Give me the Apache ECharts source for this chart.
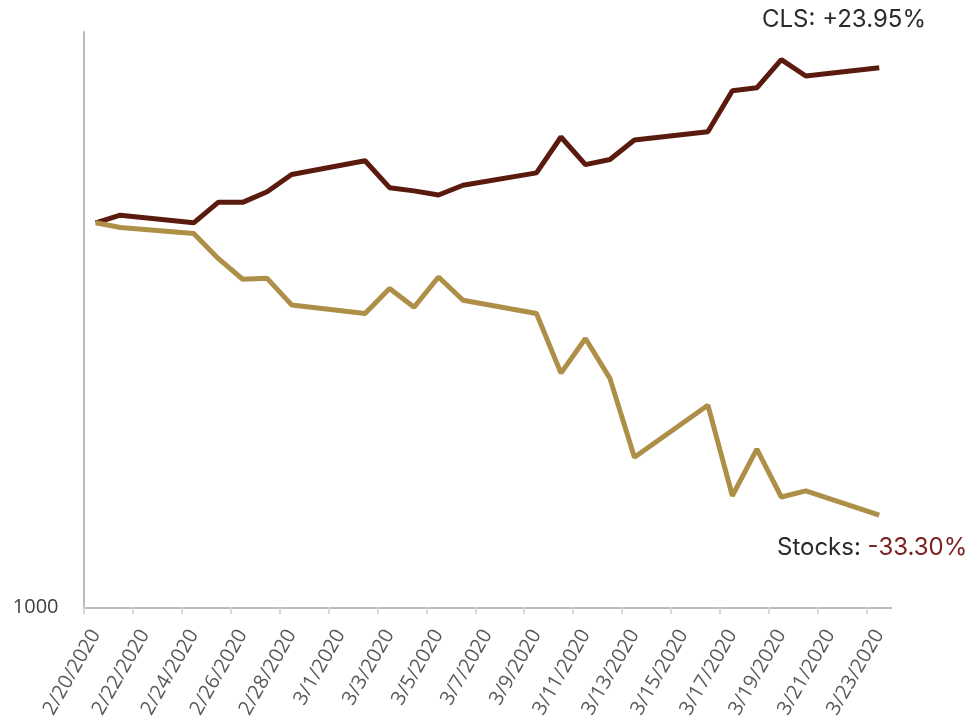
<!DOCTYPE html>
<html><head><meta charset="utf-8">
<script src="https://cdn.jsdelivr.net/npm/echarts@6/dist/echarts.min.js"></script>
<style>html,body{margin:0;padding:0;background:#fff}#c{width:967px;height:727px}</style>
</head><body><div id="c"></div>
<script>
// ---- data ----
const dates = ['2020-02-20','2020-02-21','2020-02-24','2020-02-25','2020-02-26','2020-02-27','2020-02-28',
  '2020-03-02','2020-03-03','2020-03-04','2020-03-05','2020-03-06','2020-03-09','2020-03-10','2020-03-11',
  '2020-03-12','2020-03-13','2020-03-16','2020-03-17','2020-03-18','2020-03-19','2020-03-20','2020-03-23'];
const clsValues = [1703,1721,1703,1752,1752,1778,1821,1856,1788,1780,1770,1794,1825,1918,1846,1859,1910,1932,2045,2053,2135,2087,2111];
const stockValues = [1703,1692,1678,1621,1575,1577,1520,1502,1555,1515,1580,1530,1502,1383,1451,1373,1231,1323,1167,1245,1165,1175,1136];
const xTickLabels = ['2/20/2020','2/22/2020','2/24/2020','2/26/2020','2/28/2020','3/1/2020','3/3/2020','3/5/2020',
  '3/7/2020','3/9/2020','3/11/2020','3/13/2020','3/15/2020','3/17/2020','3/19/2020','3/21/2020','3/23/2020'];
const yTickLabels = ['1000'];
const axisStart = '2020-02-20';
const axisEnd = '2020-03-24';
const clsLabel = 'CLS: +23.95%';
const stocksName = 'Stocks: ';
const stocksChange = '-33.30%';

// ---- helpers ----
const DAY = 86400000;
const t0 = Date.UTC(2020, 1, 20);
function isoDay(s) { const [y, m, d] = s.split('-').map(Number); return Math.round((Date.UTC(y, m - 1, d) - t0) / DAY); }
function mdyDay(s) { const [m, d, y] = s.split('/').map(Number); return Math.round((Date.UTC(y, m - 1, d) - t0) / DAY); }
const tickVals = xTickLabels.map(mdyDay);
const labelVals = tickVals.map(v => v + 0.5);
const yLabelVals = yTickLabels.map(Number);

const chart = echarts.init(document.getElementById('c'), null, { renderer: 'canvas' });
chart.setOption({
  animation: false,
  backgroundColor: '#ffffff',
  grid: { left: 83.5, right: 75.5, top: 31.7, bottom: 119.7, containLabel: false, outerBoundsMode: 'none' },
  xAxis: {
    type: 'value', min: isoDay(axisStart), max: isoDay(axisEnd),
    splitLine: { show: false },
    axisLine: { show: true, lineStyle: { color: '#a6a6a6', width: 1.5 } },
    axisTick: { show: true, customValues: tickVals, length: 7, lineStyle: { color: '#d9d9d9', width: 2 } },
    axisLabel: {
      customValues: labelVals, rotate: 60, margin: 24, fontSize: 20, fontFamily: 'Open Sans', color: '#595959',
      hideOverlap: false,
      formatter: v => { const i = labelVals.findIndex(x => Math.abs(x - v) < 1e-6); return i >= 0 ? xTickLabels[i] : ''; }
    }
  },
  yAxis: {
    type: 'log', logBase: 10, min: 1000, max: 2219,
    splitLine: { show: false },
    axisLine: { show: true, lineStyle: { color: '#a6a6a6', width: 1.5 } },
    axisTick: { show: false },
    axisLabel: {
      margin: 25, fontSize: 20, fontFamily: 'Open Sans', color: '#404040',
      formatter: v => yLabelVals.some(x => Math.abs(x - v) < 0.5) ? String(Math.round(v)) : ''
    }
  },
  series: [
    { name: 'CLS', type: 'line', symbol: 'none', lineStyle: { color: '#5a1a0e', width: 5 },
      data: dates.map((d, i) => [isoDay(d) + 0.5, clsValues[i]]) },
    { name: 'Stocks', type: 'line', symbol: 'none', lineStyle: { color: '#ae8f47', width: 5 },
      data: dates.map((d, i) => [isoDay(d) + 0.5, stockValues[i]]) }
  ],
  graphic: [
    { type: 'text', left: 762, top: 8, style: { text: clsLabel, font: '24px Inter', fill: '#2b2b2b' } },
    { type: 'text', left: 777, top: 536, style: { text: '{a|' + stocksName + '}{b|' + stocksChange + '}',
      rich: { a: { font: '24px Inter', fill: '#2b2b2b', color: '#2b2b2b' }, b: { font: '24px Inter', fill: '#7a2222', color: '#7a2222' } } } }
  ]
});
</script></body></html>
